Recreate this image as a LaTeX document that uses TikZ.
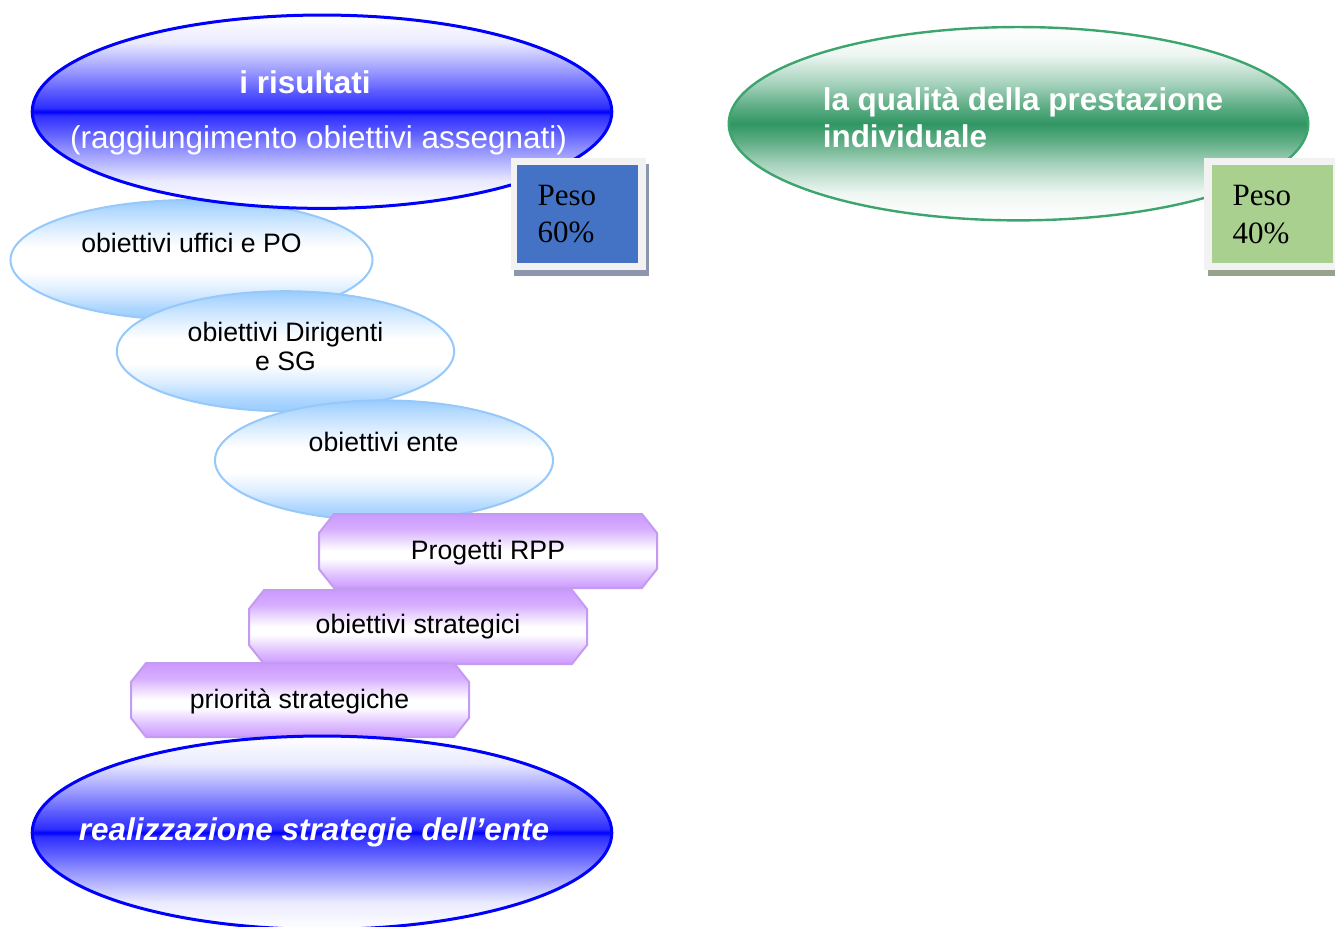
\documentclass[tikz,border=0pt]{standalone}
\usepackage{fontspec}
\setmainfont{Liberation Sans}
\newfontfamily\pesofont{Liberation Serif}
\usetikzlibrary{shapes.geometric}

\definecolor{bandblue}{RGB}{0,0,255}
\definecolor{bandgreen}{RGB}{48,150,98}
\definecolor{linegreen}{RGB}{60,165,110}
\definecolor{cloudblue}{RGB}{153,204,255}
\definecolor{cloudline}{RGB}{150,200,250}
\definecolor{lilac}{RGB}{204,153,255}
\definecolor{lilacline}{RGB}{195,155,240}
\definecolor{pesoblue}{RGB}{68,114,196}
\definecolor{pesogreen}{RGB}{169,208,142}
\definecolor{pesoframe}{RGB}{242,242,242}
\definecolor{pesoshadow}{RGB}{140,150,172}
\definecolor{pesoshadowg}{RGB}{150,162,140}

\pgfdeclareverticalshading{blueband}{100bp}{color(0bp)=(white); color(25bp)=(white); color(32bp)=(bandblue!8); color(40bp)=(bandblue!42); color(45bp)=(bandblue!65); color(49bp)=(bandblue!82); color(50bp)=(bandblue); color(51bp)=(bandblue!82); color(55bp)=(bandblue!65); color(60bp)=(bandblue!42); color(68bp)=(bandblue!8); color(75bp)=(white); color(100bp)=(white)}
\pgfdeclareverticalshading{greenband}{100bp}{color(0bp)=(white); color(25bp)=(white); color(32bp)=(bandgreen!8); color(40bp)=(bandgreen!45); color(45bp)=(bandgreen!75); color(50bp)=(bandgreen); color(55bp)=(bandgreen!75); color(60bp)=(bandgreen!45); color(68bp)=(bandgreen!8); color(75bp)=(white); color(100bp)=(white)}
\pgfdeclareverticalshading{cloudband}{100bp}{color(0bp)=(cloudblue); color(25bp)=(cloudblue); color(30bp)=(cloudblue!80); color(37bp)=(cloudblue!35); color(45bp)=(white); color(55bp)=(white); color(60bp)=(cloudblue!20); color(70bp)=(cloudblue!70); color(75bp)=(cloudblue); color(100bp)=(cloudblue)}
\pgfdeclareverticalshading{lilacband}{100bp}{color(0bp)=(lilac); color(25bp)=(lilac); color(35bp)=(lilac!55); color(45bp)=(white); color(50bp)=(white); color(55bp)=(lilac!25); color(65bp)=(lilac!80); color(75bp)=(lilac); color(100bp)=(lilac)}

\begin{document}
\begin{tikzpicture}[x=0.75pt,y=0.75pt,yscale=-1,
  bigoval/.style={ellipse,inner sep=0,minimum width=434.7pt,minimum height=145pt},
  cloud/.style={ellipse,inner sep=0,minimum height=90pt,shading=cloudband,draw=cloudline,line width=1.5pt},
  stair/.style={shading=lilacband,draw=lilacline,line width=1.5pt},
  pesobox/.style={rectangle,inner sep=0,minimum width=90.75pt,minimum height=73.3pt},
  bigtext/.style={text=white,font=\fontsize{23.6pt}{27.4pt}\selectfont,inner sep=0,anchor=base},
  smalltext/.style={font=\fontsize{20pt}{21.75pt}\selectfont,inner sep=0,anchor=base},
  pesotext/.style={font=\pesofont\fontsize{23.25pt}{28pt}\selectfont,inner sep=0,anchor=base west}]
\clip (0,0) rectangle (1335,926);

%Shape: Ellipse [qualita]
\node[bigoval,shading=greenband,draw=linegreen,line width=1.8pt] (qualita) at (1018.5,123.7) {};

%Shape: Ellipse [uffici, dirigenti, ente]
\node[cloud,minimum width=271.5pt] (uffici) at (191.5,260) {};
\node[cloud,minimum width=253pt] (dirigenti) at (285.5,351.2) {};
\node[cloud,minimum width=253.5pt] (ente) at (384,460.4) {};

%Shape: Ellipse [risultati]
\node[bigoval,shading=blueband,draw=bandblue,line width=2.25pt] (risultati) at (322,111.7) {};

%Shape: Octagon [stairs]
\foreach \cx/\cy in {488/551,418/627,300/700}
  \draw[stair] (\cx-169,\cy-18) -- (\cx-154,\cy-37) -- (\cx+154,\cy-37) -- (\cx+169,\cy-18) -- (\cx+169,\cy+18) -- (\cx+154,\cy+37) -- (\cx-154,\cy+37) -- (\cx-169,\cy+18) -- cycle;

%Shape: Ellipse [realizzazione]
\node[bigoval,shading=blueband,draw=bandblue,line width=2.25pt] (realizzazione) at (322,832.7) {};

%Shape: Square [peso 60]
\fill[pesoshadow] (514,164) rectangle (649,276);
\fill[pesoframe] (511,158.3) rectangle (646,270);
\node[pesobox,fill=pesoblue] (peso60) at (577.8,213.85) {};

%Shape: Square [peso 40]
\fill[pesoshadowg] (1207.7,164) rectangle (1343,276);
\fill[pesoframe] (1204.3,158.3) rectangle (1340,270);
\node[pesobox,fill=pesogreen] (peso40) at (1272.8,213.85) {};

%Texts
\node[bigtext,font=\bfseries\fontsize{23.6pt}{27.4pt}\selectfont] (risultatiA) at (305,93) {i risultati};
\node[bigtext] (risultatiB) at (318.5,148) {(raggiungimento obiettivi assegnati)};
\node[bigtext,font=\bfseries\fontsize{23.6pt}{27.4pt}\selectfont,align=left,anchor=base west] (qualitaT) at (822.5,147.3) {la qualità della prestazione\\individuale};
\node[bigtext,font=\bfseries\itshape\fontsize{23.6pt}{27.4pt}\selectfont] (realizzazioneT) at (314,840) {realizzazione strategie dell’ente};
\node[smalltext] (ufficiT) at (191.5,252) {obiettivi uffici e PO};
\node[smalltext,align=center] (dirigentiT) at (285.5,370.7) {obiettivi Dirigenti\\e SG};
\node[smalltext] (enteT) at (383.6,451.7) {obiettivi ente};
\node[smalltext] (rppT) at (488,559.3) {Progetti RPP};
\node[smalltext] (strategiciT) at (418,633.3) {obiettivi strategici};
\node[smalltext] (prioritaT) at (299.5,708.3) {priorità strategiche};
\node[pesotext,align=left] (peso60T) at (537.3,242.7) {Peso\\60\%};
\node[pesotext,align=left] (peso40T) at (1232.3,243) {Peso\\40\%};
\end{tikzpicture}
\end{document}
